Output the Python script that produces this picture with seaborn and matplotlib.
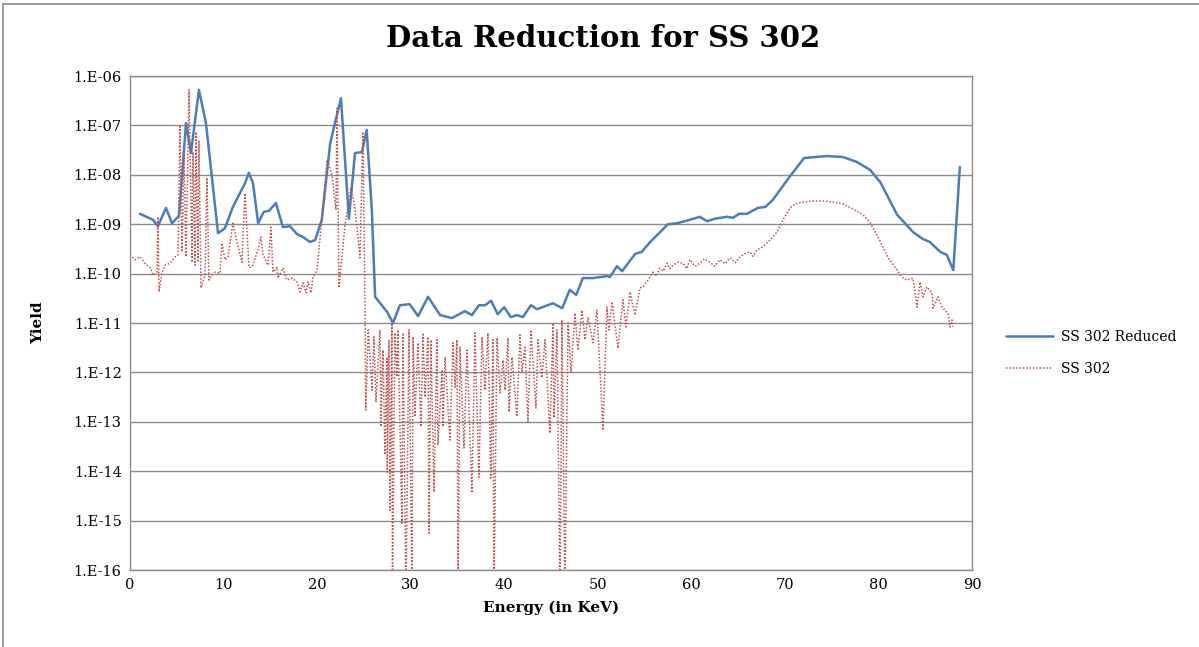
import numpy as np
import pandas as pd
import seaborn as sns
import matplotlib.pyplot as plt
import matplotlib.ticker as mticker
from matplotlib.lines import Line2D

# Reduced spectrum (energy in keV, log10 of yield)
reduced_energy = [1.07, 2.46, 2.99, 3.85, 4.49, 5.24, 5.99, 6.52, 7.37, 8.12, 9.41, 10.15,
                  11.0, 12.3, 12.7, 13.15, 13.7, 14.3, 14.85, 15.6, 16.35, 17.1, 17.85, 18.5,
                  19.25, 19.8, 20.5, 21.4, 22.55, 23.4, 24.05, 24.8, 25.3, 25.85, 26.2, 27.5,
                  28.1, 28.85, 29.9, 30.8, 31.85, 33.15, 34.4, 35.8, 36.55, 37.3, 37.95, 38.6,
                  39.3, 40.0, 40.7, 41.35, 42.0, 42.85, 43.5, 45.2, 46.2, 47.0, 47.7, 48.4,
                  49.5, 51.0, 51.3, 52.05, 52.6, 54.0, 54.7, 55.6, 57.5, 58.5, 59.85, 60.9,
                  61.7, 62.5, 63.8, 64.45, 65.1, 65.95, 67.1, 67.9, 68.7, 70.5, 72.05, 74.5,
                  76.2, 77.7, 79.1, 80.2, 82.0, 83.7, 84.75, 85.5, 86.6, 87.3, 88.0, 88.7]
reduced_log = [-8.79, -8.91, -9.04, -8.67, -8.98, -8.83, -6.95, -7.56, -6.28, -6.95, -9.18, -9.08,
               -8.65, -8.17, -7.96, -8.17, -8.98, -8.75, -8.73, -8.57, -9.06, -9.04, -9.20, -9.26,
               -9.36, -9.32, -8.91, -7.36, -6.45, -8.89, -7.56, -7.54, -7.09, -8.71, -10.47, -10.78,
               -11.0, -10.64, -10.62, -10.86, -10.47, -10.84, -10.90, -10.76, -10.84, -10.64, -10.64, -10.55,
               -10.82, -10.68, -10.88, -10.84, -10.88, -10.64, -10.72, -10.60, -10.70, -10.33, -10.43, -10.09,
               -10.09, -10.05, -10.07, -9.85, -9.95, -9.60, -9.56, -9.36, -9.0, -8.98, -8.91, -8.85,
               -8.94, -8.89, -8.85, -8.87, -8.79, -8.79, -8.67, -8.65, -8.51, -8.04, -7.66, -7.62,
               -7.64, -7.74, -7.90, -8.15, -8.81, -9.16, -9.30, -9.36, -9.56, -9.62, -9.93, -7.84]

# Raw spectrum (energy in keV, log10 of yield)
raw_energy = [0.0, 0.53, 1.07, 1.60, 2.14, 2.46, 2.89, 2.99, 3.10, 3.42, 3.74, 4.28, 4.81, 5.13,
              5.34, 5.56, 5.77, 5.99, 6.31, 6.63, 6.73, 6.95, 7.05, 7.27, 7.37, 7.59, 8.02, 8.23,
              8.44, 8.76, 9.08, 9.62, 9.83, 10.15, 10.47, 11.01, 11.44, 11.97, 12.29, 12.72, 13.04,
              13.68, 14.00, 14.22, 14.75, 15.07, 15.28, 15.71, 15.82, 16.35, 16.78, 17.31, 17.85,
              18.17, 18.49, 18.81, 19.03, 19.35, 19.56, 19.99, 20.52, 21.06, 21.59, 22.02, 22.12,
              22.34, 22.98, 23.62, 24.05, 24.58, 24.90, 25.12,
              25.2, 25.46, 25.87, 26.08, 26.29, 26.72, 26.83, 27.04, 27.25, 27.47, 27.5, 27.68,
              27.79, 28.00, 28.05, 28.32, 28.54, 28.64, 29.07, 29.18, 29.50, 29.82, 30.14, 30.25,
              30.46, 30.78, 31.10, 31.32, 31.53, 31.85, 31.96, 32.17, 32.49, 32.81, 32.92, 33.35,
              33.45, 33.67, 34.20, 34.52, 34.74, 34.95, 35.06, 35.27, 35.70, 36.02, 36.55, 36.87,
              37.30, 37.62, 37.94, 38.26, 38.58, 38.80, 38.90, 39.23, 39.55, 39.87, 40.08, 40.40,
              40.51, 40.83, 41.36, 41.68, 41.90, 42.22, 42.54, 42.86, 43.39, 43.61, 44.03, 44.36,
              44.89, 45.21, 45.32, 45.64, 45.96, 46.17, 46.49, 46.82, 47.14, 47.56, 47.88, 48.31,
              48.63, 48.95, 49.49, 49.91, 50.56, 50.98, 51.20,
              51.52, 52.16, 52.69, 53.01, 53.44, 53.97, 54.51, 54.83, 55.37, 55.90, 56.25, 56.65,
              57.00, 57.40, 57.70, 58.04, 58.57, 59.11, 59.50, 59.85, 60.40, 60.92, 61.40, 61.99,
              62.50, 63.06, 63.60, 64.13, 64.70, 65.20, 65.70, 66.27, 66.60, 67.01, 67.66, 68.40,
              69.15, 69.79, 70.54, 71.08, 71.93, 73.00, 74.07, 75.14, 76.21, 77.28, 78.34, 79.09,
              79.84, 80.48, 81.02, 81.77, 82.51, 83.05, 83.69, 84.12, 84.44, 84.76, 85.18, 85.72,
              85.83, 86.36, 86.79, 87.11, 87.43, 87.64, 87.86, 87.96]
raw_log = [-9.62, -9.72, -9.66, -9.79, -9.87, -10.03, -9.97, -8.85, -10.37, -9.99, -9.83, -9.79, -9.66, -9.62,
           -6.99, -9.56, -7.60, -9.66, -6.28, -9.77, -7.54, -9.83, -7.13, -9.77, -7.30, -10.29, -10.03, -8.06,
           -10.13, -10.03, -9.97, -9.99, -9.38, -9.72, -9.66, -8.98, -9.36, -9.77, -8.37, -9.87, -9.87,
           -9.52, -9.26, -9.62, -9.83, -9.06, -9.97, -9.87, -10.09, -9.89, -10.13, -10.09, -10.17,
           -10.37, -10.19, -10.39, -10.17, -10.39, -10.07, -9.93, -8.87, -7.70, -8.00, -8.71, -6.65,
           -10.29, -9.02, -8.25, -8.67, -9.68, -7.13, -10.64,
           -12.76, -11.14, -12.36, -11.28, -12.60, -11.14, -13.10, -11.55, -13.67, -11.69, -14.02, -11.34,
           -14.79, -11.00, -16.5, -11.20, -12.09, -11.14, -15.05, -11.20, -16.5, -11.14, -16.5, -11.28,
           -12.90, -11.40, -13.10, -11.20, -12.50, -11.28, -15.25, -11.34, -14.42, -11.34, -13.47, -11.95,
           -13.10, -11.69, -13.37, -11.40, -12.30, -11.34, -16.5, -11.49, -13.53, -11.55, -14.44, -11.20,
           -14.12, -11.28, -12.36, -11.20, -14.14, -11.34, -16.5, -11.30, -12.42, -11.75, -12.36, -11.30,
           -12.80, -11.69, -12.90, -11.24, -12.01, -11.49, -13.00, -11.14, -12.72, -11.34, -12.11, -11.34,
           -13.23, -11.00, -12.92, -11.14, -16.5, -10.94, -16.5, -11.00, -12.01, -10.80, -11.55, -10.74,
           -11.34, -10.88, -11.40, -10.74, -13.17, -10.68, -11.14,
           -10.57, -11.51, -10.53, -11.08, -10.37, -10.84, -10.29, -10.27, -10.13, -9.97, -10.05, -9.89,
           -9.95, -9.79, -9.90, -9.83, -9.77, -9.79, -9.90, -9.72, -9.85, -9.79, -9.70, -9.77,
           -9.85, -9.72, -9.80, -9.68, -9.78, -9.66, -9.60, -9.56, -9.65, -9.52, -9.46, -9.32,
           -9.16, -8.91, -8.67, -8.59, -8.55, -8.53, -8.53, -8.55, -8.59, -8.69, -8.81, -8.96,
           -9.22, -9.46, -9.68, -9.87, -10.07, -10.13, -10.09, -10.68, -10.17, -10.47, -10.27, -10.39,
           -10.70, -10.47, -10.68, -10.74, -10.80, -11.08, -10.94, -11.08]

yticks = [1e-16, 1e-15, 1e-14, 1e-13, 1e-12, 1e-11, 1e-10, 1e-9, 1e-8, 1e-7, 1e-6]
ytick_labels = ['1.E-16', '1.E-15', '1.E-14', '1.E-13', '1.E-12', '1.E-11',
                '1.E-10', '1.E-09', '1.E-08', '1.E-07', '1.E-06']

reduced = pd.DataFrame({'Energy': reduced_energy, 'Yield': 10.0 ** np.array(reduced_log)})
raw = pd.DataFrame({'Energy': raw_energy, 'Yield': 10.0 ** np.array(raw_log)})

sns.set_style('white')
plt.rcParams['font.family'] = ['DejaVu Serif']
plt.rcParams['text.color'] = 'black'
plt.rcParams['xtick.color'] = 'black'
plt.rcParams['ytick.color'] = 'black'
plt.rcParams['axes.labelcolor'] = 'black'

fig = plt.figure(figsize=(11.99, 6.47), dpi=100)
ax = fig.add_axes([0.1084, 0.119, 0.7023, 0.7635])

sns.lineplot(data=reduced, x='Energy', y='Yield', ax=ax, color='#4A7EBB', linewidth=1.8,
             sort=False, estimator=None, label='SS 302 Reduced')
sns.lineplot(data=raw, x='Energy', y='Yield', ax=ax, color='#C0504D', linewidth=1.1,
             linestyle=(0, (1, 1.2)), sort=False, estimator=None, label='SS 302')

ax.set_yscale('log')
ax.set_ylim(1e-16, 1e-6)
ax.set_xlim(0, 90)
ax.set_yticks(yticks)
ax.set_yticklabels(ytick_labels)
ax.yaxis.set_minor_locator(mticker.NullLocator())
ax.set_xticks(range(0, 91, 10))
ax.tick_params(axis='both', labelsize=10.5, length=0, pad=6)
ax.grid(axis='y', color='#8c8c8c', linewidth=1)
ax.set_axisbelow(True)
for s in ax.spines.values():
    s.set_color('#8c8c8c')
    s.set_linewidth(1)

ax.set_xlabel('Energy (in KeV)', fontsize=11, fontweight='bold', labelpad=6)
ax.set_ylabel('Yield', fontsize=11, fontweight='bold', labelpad=20)
fig.text(0.503, 0.94, 'Data Reduction for SS 302', ha='center', va='center',
         fontsize=21, fontweight='bold')

ax.legend(loc='center left', bbox_to_anchor=(1.025, 0.44), frameon=False, fontsize=10,
          handlelength=3.4, handletextpad=0.6, labelspacing=1.3)

# chart border
fig.add_artist(Line2D([0.0025, 1.0], [0.994, 0.994], color='#8c8c8c', linewidth=1.2))
fig.add_artist(Line2D([0.0025, 0.0025], [0.0, 0.994], color='#8c8c8c', linewidth=1.2))

fig.savefig('out.png', dpi=100)
